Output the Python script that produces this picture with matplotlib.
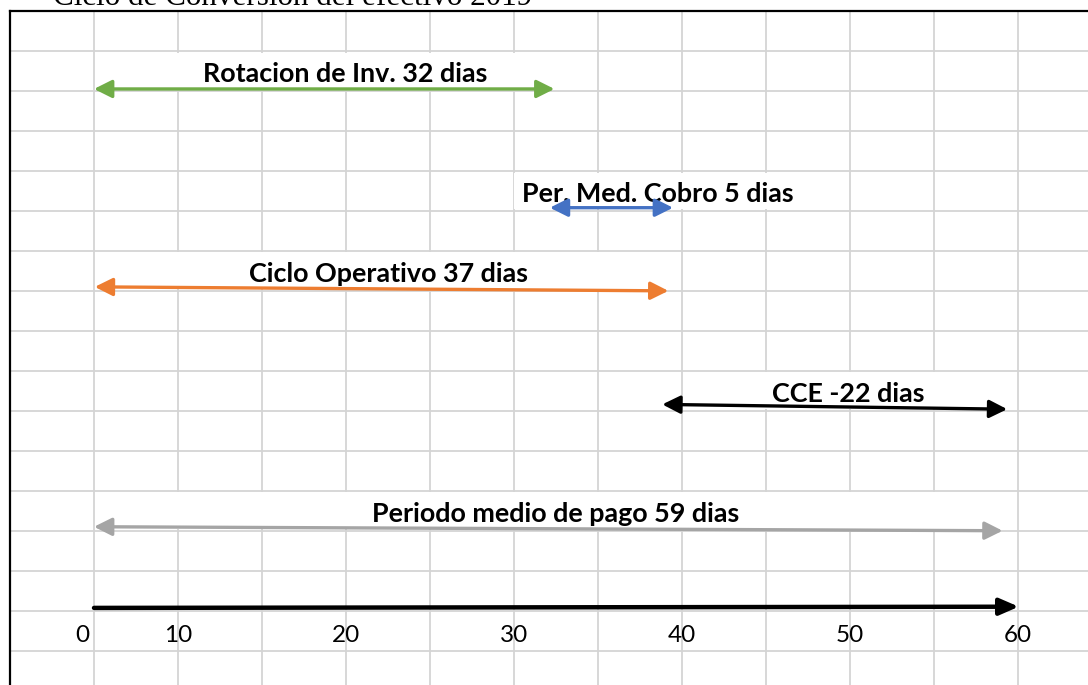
import matplotlib
matplotlib.use("Agg")
import matplotlib.pyplot as plt
from matplotlib.patches import FancyArrowPatch, Rectangle, ArrowStyle

# values (days)
labels = [
    "Rotacion de Inv. 32 dias",
    "Per. Med. Cobro 5 dias",
    "Ciclo Operativo 37 dias",
    "CCE -22 dias",
    "Periodo medio de pago 59 dias",
]
start_days = [0.0, 29.6, 0.05, 36.9, 0.0]
end_days = [29.9, 37.6, 37.3, 59.3, 59.0]
colors = ["#70AD47", "#4472C4", "#ED7D31", "#000000", "#A5A5A5"]
axis_end = 60.05
tick_labels = ["0", "10", "20", "30", "40", "50", "60"]
title = "Ciclo de Conversion del efectivo 2019"

# layout on the spreadsheet grid (rows / columns)
rows = [1, 4, 6, 9, 12]
y_start = [1.95, 4.92, 6.90, 9.84, 12.90]
y_end = [1.95, 4.92, 7.00, 9.96, 13.00]
label_x = [16.33, 36.6, 19.1, 49.0, 30.0]
box_lo = [0.2, 27.3, 0.5, 38.5, 0.2]
box_hi = [30.0, 45.8, 37.0, 59.0, 59.0]
tick_cols = [0, 1, 3, 5, 7, 9, 11]

PX_DAY = 15.4
X0_PX = 94
ROW_PX = 39.98
TOP_PX = 11
COL = 60 / 11
GRID = "#D4D4D4"

fig = plt.figure(figsize=(10.88, 6.85), dpi=100)
ax = fig.add_axes([0, 0, 1, 1])
ax.set_xlim(-X0_PX / PX_DAY, (1088 - X0_PX) / PX_DAY)
ax.set_ylim((685 - TOP_PX) / ROW_PX, -TOP_PX / ROW_PX)
ax.axis("off")

# sheet gridlines
for j in range(0, 13):
    ax.plot([j * COL, j * COL], [0, 18], color=GRID, lw=1.3, zorder=1)
for r in range(1, 18):
    ax.plot([-COL, 70], [r, r], color=GRID, lw=1.3, zorder=1)
# black border (left + top)
ax.plot([-COL, -COL], [0, 18], color="black", lw=1.6, zorder=6,
        solid_capstyle="projecting")
ax.plot([-COL, 70], [0, 0], color="black", lw=1.6, zorder=6,
        solid_capstyle="projecting")

# title sits above the sheet and is cut by the top edge, as in the screenshot
ax.text(-2.66, -0.138, title, ha="left", va="baseline", fontsize=22.4,
        family="Liberation Serif", zorder=7)

for i, lab in enumerate(labels):
    r = rows[i]
    ax.add_patch(Rectangle((box_lo[i], r + 0.04), box_hi[i] - box_lo[i], 0.92,
                           facecolor="white", edgecolor="none", zorder=2))
    ax.text(label_x[i], r + 0.77, lab, ha="center", va="baseline",
            fontsize=19.4, fontweight="bold", family="Lato", zorder=3)
    arrow = FancyArrowPatch(
        (start_days[i], y_start[i]), (end_days[i], y_end[i]),
        arrowstyle=ArrowStyle("<|-|>", head_length=1.08, head_width=0.54),
        mutation_scale=10, color=colors[i], lw=2.4,
        shrinkA=0, shrinkB=0, zorder=4,
    )
    ax.add_patch(arrow)

# time axis
ax.add_patch(FancyArrowPatch(
    (0, 14.93), (axis_end, 14.90),
    arrowstyle=ArrowStyle("-|>", head_length=1.15, head_width=0.5),
    mutation_scale=10, color="black", lw=3.2,
    shrinkA=0, shrinkB=0, zorder=4,
))

for col, lab in zip(tick_cols, tick_labels):
    if col == 0:
        ax.text(-0.3, 15.78, lab, ha="right", va="baseline",
                fontsize=17.5, family="Lato", zorder=3)
    else:
        ax.text(col * COL, 15.78, lab, ha="center", va="baseline",
                fontsize=17.5, family="Lato", zorder=3)

fig.savefig("out.png", dpi=100)
